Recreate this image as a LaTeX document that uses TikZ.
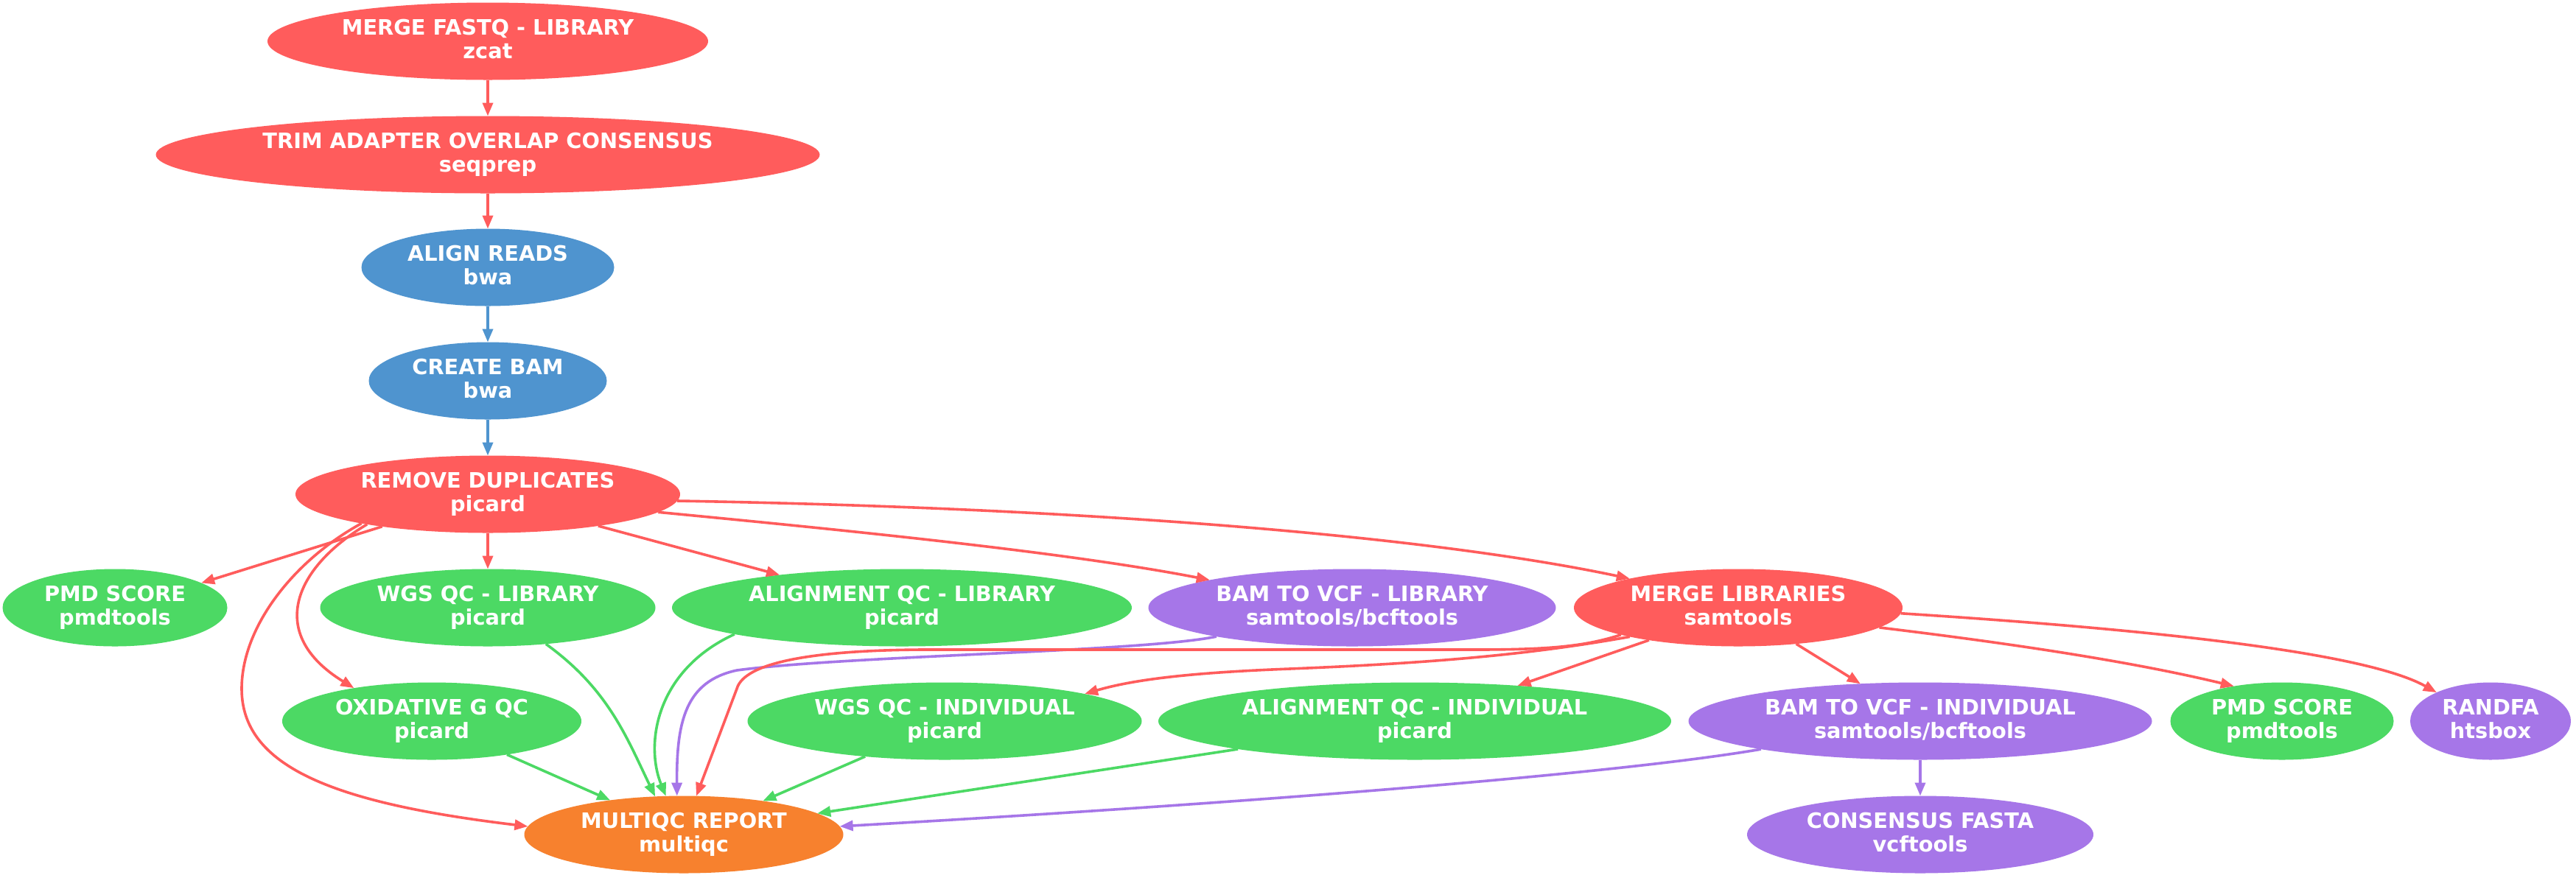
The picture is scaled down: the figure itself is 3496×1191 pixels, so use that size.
\documentclass[tikz,border=0pt]{standalone}
\usepackage{fontspec}
\newfontfamily\nf{DejaVu Sans}
\usetikzlibrary{shapes.geometric,arrows.meta}
\definecolor{cred}{HTML}{FF5C5C}
\definecolor{cgreen}{HTML}{4CD964}
\definecolor{cblue}{HTML}{4F94CF}
\definecolor{cpurple}{HTML}{A676E8}
\definecolor{corange}{HTML}{F7812E}
\begin{document}
\begin{tikzpicture}[x=0.5pt,y=-0.5pt,
  nd/.style={ellipse,inner sep=0pt,outer sep=0pt,minimum height=52.5pt,text=white,align=center,
    font=\nf\bfseries\fontsize{14.4pt}{16.2pt}\selectfont,text height=26.2pt,text depth=2.5pt},
  nred/.style={nd,fill=cred},
  ngreen/.style={nd,fill=cgreen},
  nblue/.style={nd,fill=cblue},
  npurple/.style={nd,fill=cpurple},
  norange/.style={nd,fill=corange},
  ed/.style={line width=1.8pt,-{Triangle[length=9pt,width=7pt]}},
  er/.style={ed,color=cred},
  eg/.style={ed,color=cgreen},
  eb/.style={ed,color=cblue},
  ep/.style={ed,color=cpurple}]
\fill[white] (0,0) rectangle (3496,1191);
\useasboundingbox (0,0) rectangle (3496,1191);

\node[nred,minimum width=299pt] (mfq) at (662,56) {MERGE FASTQ - LIBRARY\\zcat};
\node[nred,minimum width=450.5pt] (trim) at (662,210) {TRIM ADAPTER OVERLAP CONSENSUS\\seqprep};
\node[nblue,minimum width=171.5pt] (aln) at (662,363) {ALIGN READS\\bwa};
\node[nblue,minimum width=161.5pt] (bam) at (662,517) {CREATE BAM\\bwa};
\node[nred,minimum width=261pt] (rd) at (662,671) {REMOVE DUPLICATES\\picard};
\node[ngreen,minimum width=152.5pt] (pmdl) at (156,825) {PMD SCORE\\pmdtools};
\node[ngreen,minimum width=227.5pt] (wgsl) at (662,825) {WGS QC - LIBRARY\\picard};
\node[ngreen,minimum width=312pt] (alql) at (1224,825) {ALIGNMENT QC - LIBRARY\\picard};
\node[npurple,minimum width=276.5pt] (bvl) at (1835,825) {BAM TO VCF - LIBRARY\\samtools/bcftools};
\node[nred,minimum width=223pt] (ml) at (2359,825) {MERGE LIBRARIES\\samtools};
\node[ngreen,minimum width=203pt] (ox) at (586,979) {OXIDATIVE G QC\\picard};
\node[ngreen,minimum width=267.5pt] (wgsi) at (1282,979) {WGS QC - INDIVIDUAL\\picard};
\node[ngreen,minimum width=348pt] (alqi) at (1920,979) {ALIGNMENT QC - INDIVIDUAL\\picard};
\node[npurple,minimum width=314.5pt] (bvi) at (2606,979) {BAM TO VCF - INDIVIDUAL\\samtools/bcftools};
\node[ngreen,minimum width=151.5pt] (pmdr) at (3097,979) {PMD SCORE\\pmdtools};
\node[npurple,minimum width=109pt] (rfa) at (3380,979) {RANDFA\\htsbox};
\node[norange,minimum width=216.5pt] (mq) at (928,1133) {MULTIQC REPORT\\multiqc};
\node[npurple,minimum width=235pt] (cf) at (2606,1133) {CONSENSUS FASTA\\vcftools};

% main chain
\draw[er] (mfq.south) -- (trim.north);
\draw[er] (trim.south) -- (aln.north);
\draw[eb] (aln.south) -- (bam.north);
\draw[eb] (bam.south) -- (rd.north);

% from remove duplicates
\draw[er] (rd.197.8) -- (pmdl.16);
\draw[er] (rd.south) -- (wgsl.north);
\draw[er] (rd.-16.2) -- (alql.165.4);
\draw[er] (rd.-6.4) .. controls (1150,720) and (1450,750) .. (bvl.169.3);
\draw[er] (rd.-2) .. controls (1500,690) and (1950,730) .. (ml.165);
\draw[er] (rd.194.8) .. controls (400,770) and (360,860) .. (ox.157.8);
\draw[er] (rd.193.5) .. controls (400,760) and (328,850) .. (328,935)
  .. controls (328,1040) and (450,1090) .. (mq.177);

% into multiqc
\draw[eg] (wgsl.-32) .. controls (825,935) and (850,1000) .. (mq.127.6);
\draw[eg] (alql.189.5) .. controls (890,910) and (875,1010) .. (mq.115.7);
\draw[ep] (bvl.192) .. controls (1550,885) and (1150,890) .. (1000,910)
  .. controls (930,925) and (918,980) .. (mq.100.7);
\draw[er] (ml.193.9) .. controls (2150,878) and (2100,882) .. (2000,882) -- (1250,882)
  .. controls (1100,883) and (1010,900) .. (1000,935) -- (mq.72);
\draw[eg] (ox.-24.5) -- (mq.155.9);
\draw[eg] (wgsi.204.4) -- (mq.23.2);
\draw[eg] (alqi.189.4) -- (mq.9.5);
\draw[ep] (bvi.190.5) .. controls (2200,1050) and (1700,1090) .. (mq.3.1);

% from merge libraries
\draw[er] (ml.195.6) .. controls (2080,888) and (1950,900) .. (1750,908)
  .. controls (1620,913) and (1540,922) .. (wgsi.11.8);
\draw[er] (ml.200.9) -- (alqi.19.3);
\draw[er] (ml.-32.7) -- (bvi.148.1);
\draw[er] (ml.-8.5) .. controls (2700,870) and (2880,895) .. (pmdr.144.6);
\draw[er] (ml.-2.8) .. controls (2850,850) and (3200,880) .. (rfa.152.5);

\draw[ep] (bvi.south) -- (cf.north);
\end{tikzpicture}
\end{document}
